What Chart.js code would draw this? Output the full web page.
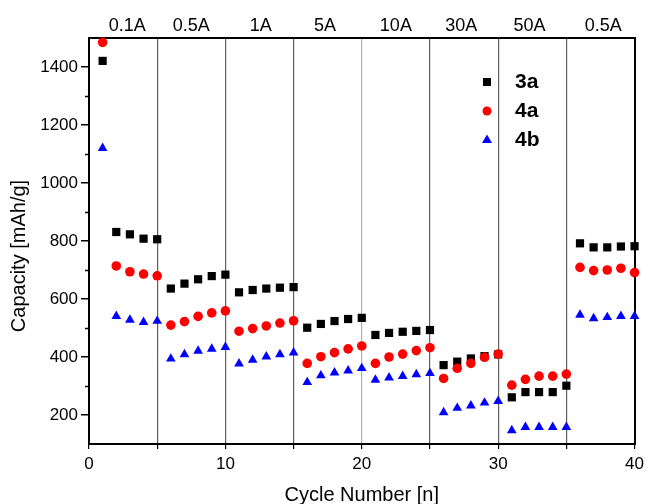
<!DOCTYPE html>
<html>
<head>
<meta charset="utf-8">
<script src="https://cdn.jsdelivr.net/npm/chart.js@4/dist/chart.umd.min.js"></script>
<style>
  html, body { margin: 0; padding: 0; background: #fff; overflow: hidden; }
  #wrap { width: 649px; height: 504px; }
</style>
</head>
<body>
<div id="wrap"><canvas id="rateChart"></canvas></div>
<script>
const cycles = [1, 2, 3, 4, 5, 6, 7, 8, 9, 10, 11, 12, 13, 14, 15, 16, 17, 18, 19, 20,
  21, 22, 23, 24, 25, 26, 27, 28, 29, 30, 31, 32, 33, 34, 35, 36, 37, 38, 39, 40];

const cap3a = [1421, 831, 823, 808, 806, 636, 653, 668, 679, 684, 623, 631, 636, 639, 641,
  501, 514, 524, 531, 535, 476, 483, 487, 490, 493, 372, 384, 395, 403, 409,
  261, 279, 279, 279, 301, 792, 778, 778, 781, 782];
const cap4a = [1485, 714, 694, 686, 680, 510, 522, 540, 552, 559, 489, 498, 507, 517, 525,
  378, 401, 415, 428, 438, 378, 400, 410, 422, 432, 326, 361, 378, 399, 410,
  303, 323, 334, 334, 341, 709, 698, 700, 706, 691];
const cap4b = [1120, 541, 528, 520, 524, 394, 409, 421, 428, 434, 377, 390, 401, 409, 415,
  313, 336, 346, 353, 361, 321, 329, 334, 340, 344, 209, 224, 232, 242, 248,
  147, 158, 158, 158, 158, 545, 533, 537, 541, 541];

// current density of each block of 5 cycles, shown along the top
const currentLabels = ["0.1A", "0.5A", "1A", "5A", "10A", "30A", "50A", "0.5A"];
const currentPos = [2.8, 7.5, 12.6, 17.3, 22.5, 27.3, 32.3, 37.7];

const seriesNames = ["3a", "4a", "4b"];
const seriesColors = ["#000000", "#ff0000", "#0000ff"];
const seriesStyles = ["rect", "circle", "triangle"];
const seriesRadius = [5.8, 4.8, 5.6];

const FONT = "'Liberation Sans', Arial, sans-serif";

const toPoints = vals => cycles.map((c, i) => ({ x: c, y: vals[i] }));

// minor ticks on the y axis (every 100, shorter than the labelled ones)
const minorTicks = {
  id: "minorTicks",
  afterDraw(chart) {
    const ctx = chart.ctx;
    const y = chart.scales.y;
    ctx.save();
    ctx.strokeStyle = "#000";
    ctx.lineWidth = 1.5;
    y.ticks.forEach(t => {
      if (t.value % 200 === 0 || t.value === y.min || t.value === y.max) return;
      const py = Math.round(y.getPixelForValue(t.value)) + 0.5;
      ctx.beginPath();
      ctx.moveTo(y.right - 4, py);
      ctx.lineTo(y.right, py);
      ctx.stroke();
    });
    ctx.restore();
  }
};

// y title and the in-plot legend
const extras = {
  id: "extras",
  afterDraw(chart) {
    const ctx = chart.ctx;
    ctx.save();
    ctx.fillStyle = "#000";
    ctx.font = "20px " + FONT;
    ctx.textAlign = "center";
    ctx.textBaseline = "middle";
    ctx.translate(19, 256);
    ctx.rotate(-Math.PI / 2);
    ctx.fillText("Capacity [mAh/g]", 0, 0);
    ctx.restore();

    ctx.save();
    ctx.font = "bold 21px " + FONT;
    ctx.textAlign = "left";
    ctx.textBaseline = "middle";
    seriesNames.forEach((name, i) => {
      const mx = 487, my = 82 + i * 29;
      ctx.fillStyle = seriesColors[i];
      ctx.beginPath();
      if (seriesStyles[i] === "rect") {
        ctx.rect(mx - 4, my - 4, 8, 8);
      } else if (seriesStyles[i] === "circle") {
        ctx.arc(mx, my, 4.5, 0, Math.PI * 2);
      } else {
        ctx.moveTo(mx, my - 5.5);
        ctx.lineTo(mx + 5, my + 3);
        ctx.lineTo(mx - 5, my + 3);
        ctx.closePath();
      }
      ctx.fill();
      ctx.fillStyle = "#000";
      ctx.fillText(name, 515, my);
    });
    ctx.restore();
  }
};

const seriesValues = [cap3a, cap4a, cap4b];

new Chart(document.getElementById("rateChart"), {
  type: "line",
  data: {
    datasets: seriesNames.map((name, i) => ({
      label: name,
      data: toPoints(seriesValues[i]),
      showLine: false,
      pointStyle: seriesStyles[i],
      pointRadius: seriesRadius[i],
      pointHoverRadius: seriesRadius[i],
      pointBackgroundColor: seriesColors[i],
      pointBorderColor: seriesColors[i],
      pointBorderWidth: 0,
      clip: false,
      order: 2 - i
    }))
  },
  options: {
    responsive: true,
    maintainAspectRatio: false,
    animation: false,
    layout: { padding: 0 },
    plugins: {
      legend: { display: false },
      tooltip: { enabled: false }
    },
    scales: {
      x: {
        type: "linear",
        position: "bottom",
        min: 0,
        max: 40,
        afterFit: s => { s.height = 60; },
        ticks: {
          stepSize: 5,
          padding: 5,
          color: "#000",
          font: { family: FONT, size: 17 },
          maxRotation: 0,
          callback: v => (v % 10 === 0 ? String(v) : "")
        },
        grid: {
          drawOnChartArea: true,
          drawTicks: true,
          tickLength: 5,
          tickColor: "#000",
          lineWidth: 1.2,
          color: ctx => {
            const v = ctx.tick ? ctx.tick.value : 0;
            if (v === 0 || v === 40) return "rgba(0,0,0,0)";
            return v === 20 ? "#b0b0b0" : "#606060";
          }
        },
        border: { display: true, color: "#000", width: 2 },
        title: {
          display: true,
          text: "Cycle Number [n]",
          color: "#000",
          font: { family: FONT, size: 20, lineHeight: 0.9 },
          padding: { top: 0, bottom: 0 }
        }
      },
      xTop: {
        type: "linear",
        position: "top",
        min: 0,
        max: 40,
        afterFit: s => { s.height = 38; },
        afterBuildTicks: s => { s.ticks = currentPos.map(v => ({ value: v })); },
        ticks: {
          autoSkip: false,
          maxRotation: 0,
          padding: 1,
          color: "#000",
          font: { family: FONT, size: 18 },
          callback: (v, i) => currentLabels[i]
        },
        grid: { display: false, drawTicks: false },
        border: { display: true, color: "#000", width: 2 }
      },
      y: {
        type: "linear",
        position: "left",
        min: 100,
        max: 1500,
        afterFit: s => { s.width = 89; },
        ticks: {
          stepSize: 100,
          padding: 3,
          color: "#000",
          font: { family: FONT, size: 17 },
          callback: v => (v % 200 === 0 ? String(v) : "")
        },
        grid: {
          drawOnChartArea: false,
          drawTicks: true,
          tickLength: 8,
          lineWidth: 1.5,
          tickColor: ctx => (ctx.tick && ctx.tick.value % 200 === 0 ? "#000" : "rgba(0,0,0,0)")
        },
        border: { display: true, color: "#000", width: 2 }
      },
      yRight: {
        type: "linear",
        position: "right",
        min: 100,
        max: 1500,
        afterFit: s => { s.width = 11; },
        ticks: { display: false },
        grid: { display: false, drawTicks: false },
        border: { display: true, color: "#000", width: 2 }
      }
    }
  },
  plugins: [minorTicks, extras]
});
</script>
</body>
</html>
